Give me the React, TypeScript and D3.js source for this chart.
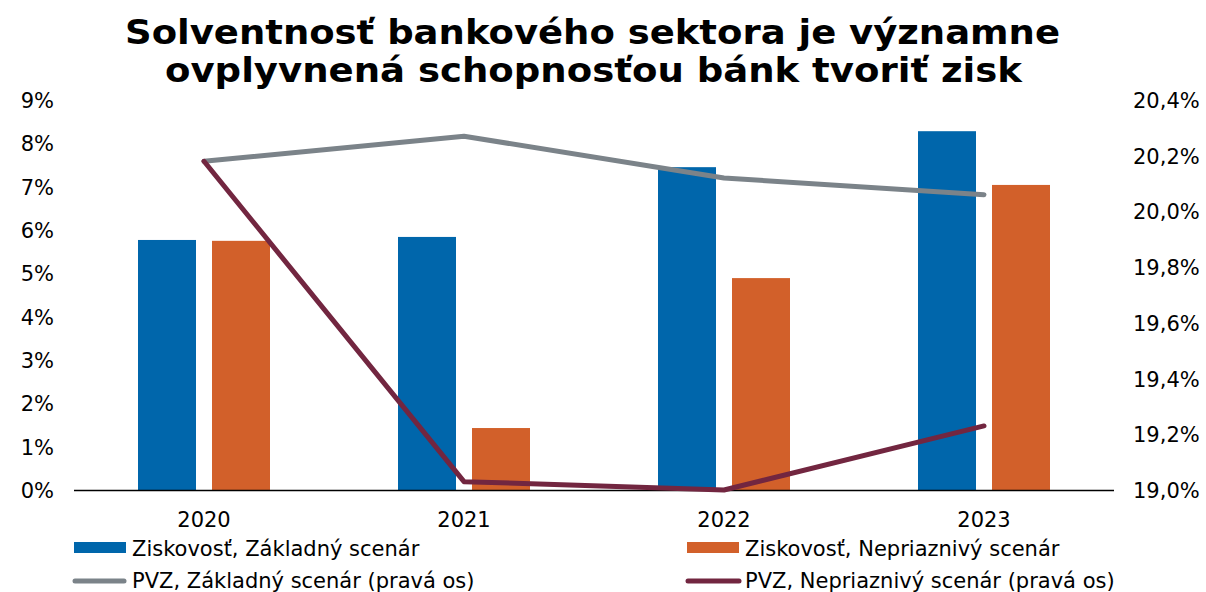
import React from "react";
import * as d3 from "d3";

const years = ["2020", "2021", "2022", "2023"];
const profitBase = [5.77, 5.84, 7.45, 8.28];
const profitAdverse = [5.75, 1.43, 4.89, 7.04];
const carBase = [20.18, 20.27, 20.12, 20.06];
const carAdverse = [20.18, 19.03, 19.0, 19.23];
const leftTicks = [0, 1, 2, 3, 4, 5, 6, 7, 8, 9];
const rightTicks = [19.0, 19.2, 19.4, 19.6, 19.8, 20.0, 20.2, 20.4];
const titleLines = [
  "Solventnosť bankového sektora je významne",
  "ovplyvnená schopnosťou bánk tvoriť zisk",
];
const legendLabels = [
  "Ziskovosť, Základný scenár",
  "Ziskovosť, Nepriaznivý scenár",
  "PVZ, Základný scenár (pravá os)",
  "PVZ, Nepriaznivý scenár (pravá os)",
];

const W = 1206;
const H = 592;
const FONT = "Verdana, 'DejaVu Sans', sans-serif";
const C_BLUE = "#0066AB";
const C_ORANGE = "#D2602A";
const C_GRAY = "#7B8389";
const C_RED = "#722640";
const FS = 21;

export default function App() {
  const x = d3.scaleBand<string>().domain(years).range([74, 1114]);
  const yL = d3.scaleLinear().domain([0, 9]).range([490, 100]);
  const yR = d3.scaleLinear().domain([19.0, 20.4]).range([490, 100]);
  const barW = 58;
  const gap = 16;
  const cx = (y: string) => (x(y) as number) + x.bandwidth() / 2;

  const lineGen = (vals: number[]) =>
    d3
      .line<number>()
      .x((_, i) => cx(years[i]))
      .y((v) => yR(v))(vals) as string;

  const fmtR = (v: number) => v.toFixed(1).replace(".", ",") + "%";

  return (
    <svg
      width={W}
      height={H}
      style={{ position: "absolute", left: 0, top: 0, background: "#fff" }}
      fontFamily={FONT}
    >
      <text x={125} y={44} fontSize={34} fontWeight="bold" fill="#000" textLength={935} lengthAdjust="spacingAndGlyphs">
        {titleLines[0]}
      </text>
      <text x={165} y={82} fontSize={34} fontWeight="bold" fill="#000" textLength={857} lengthAdjust="spacingAndGlyphs">
        {titleLines[1]}
      </text>

      {leftTicks.map((t) => (
        <text key={"l" + t} x={54} y={yL(t) + 8} textAnchor="end" fontSize={FS} fill="#000">
          {t + "%"}
        </text>
      ))}
      {rightTicks.map((t) => (
        <text key={"r" + t} x={1133} y={yR(t) + 8} textAnchor="start" fontSize={FS} fill="#000">
          {fmtR(t)}
        </text>
      ))}

      {years.map((y, i) => (
        <g key={y}>
          <rect
            x={cx(y) - gap / 2 - barW}
            y={yL(profitBase[i])}
            width={barW}
            height={yL(0) - yL(profitBase[i])}
            fill={C_BLUE}
          />
          <rect
            x={cx(y) + gap / 2}
            y={yL(profitAdverse[i])}
            width={barW}
            height={yL(0) - yL(profitAdverse[i])}
            fill={C_ORANGE}
          />
          <text x={cx(y)} y={527} textAnchor="middle" fontSize={FS} fill="#000">
            {y}
          </text>
        </g>
      ))}

      <line x1={74} x2={1114} y1={490.5} y2={490.5} stroke="#000" strokeWidth={1.5} />

      <path d={lineGen(carBase)} fill="none" stroke={C_GRAY} strokeWidth={5} strokeLinecap="round" strokeLinejoin="round" />
      <path d={lineGen(carAdverse)} fill="none" stroke={C_RED} strokeWidth={5} strokeLinecap="round" strokeLinejoin="round" />

      {/* legend */}
      <rect x={74} y={542} width={52} height={11} fill={C_BLUE} />
      <text x={132} y={556} fontSize={FS} fill="#000">{legendLabels[0]}</text>
      <rect x={687} y={542} width={52} height={11} fill={C_ORANGE} />
      <text x={745} y={556} fontSize={FS} fill="#000">{legendLabels[1]}</text>
      <line x1={75} x2={124} y1={581} y2={581} stroke={C_GRAY} strokeWidth={5} strokeLinecap="round" />
      <text x={132} y={588} fontSize={FS} fill="#000">{legendLabels[2]}</text>
      <line x1={688} x2={739} y1={581} y2={581} stroke={C_RED} strokeWidth={5} strokeLinecap="round" />
      <text x={745} y={588} fontSize={FS} fill="#000">{legendLabels[3]}</text>
    </svg>
  );
}
